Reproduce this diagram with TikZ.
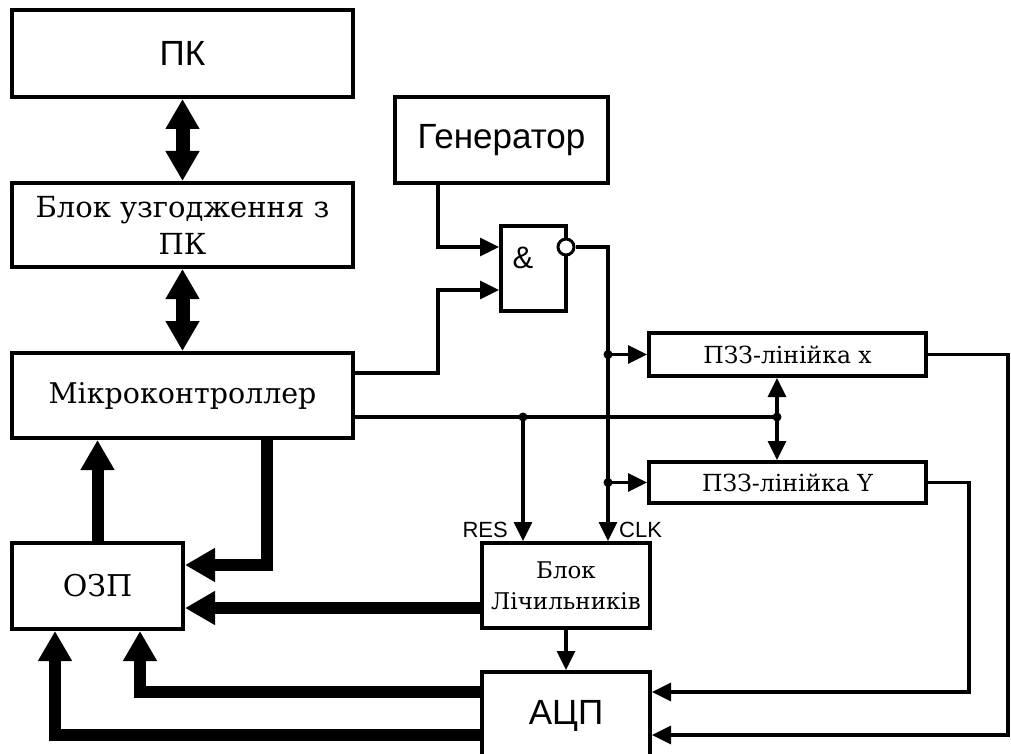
\documentclass[tikz,border=0pt]{standalone}
\usepackage{fontspec}
\setmainfont{DejaVu Serif}
\newfontfamily\sansf{Liberation Sans}
\usetikzlibrary{arrows.meta,calc}
\begin{document}
\begin{tikzpicture}[x=1pt,y=-1pt,
  box/.style={draw, line width=4pt, rectangle, inner sep=0pt, align=center},
  wire/.style={line width=3.2pt},
  bus/.style={line width=12pt},
  tip/.style={-{Triangle[length=19pt,width=18pt]}},
  dtip/.style={{Triangle[length=19pt,width=18pt]}-{Triangle[length=19pt,width=18pt]}},
  bigtip/.style={-{Triangle[length=30pt,width=32pt]}},
  dbigtip/.style={{Triangle[length=30pt,width=32pt]}-{Triangle[length=30pt,width=32pt]}},
  dot/.style={circle, fill, inner sep=0pt, minimum size=9pt}
]
\useasboundingbox (0,0) rectangle (1011,754);

% blocks
\node[box, minimum width=341pt, minimum height=87pt, font=\sansf\fontsize{35}{40}\selectfont] (pk) at (182.5,53.5) {ПК};
\node[box, minimum width=341pt, minimum height=84pt, font=\fontsize{29}{37}\selectfont] (blk) at (182.5,225) {Блок узгодження з\\ПК};
\node[box, minimum width=341pt, minimum height=85pt, font=\fontsize{28.5}{32}\selectfont] (mc) at (182.5,395.5) {Мікроконтроллер};
\node[box, minimum width=213pt, minimum height=86pt, font=\sansf\fontsize{35}{40}\selectfont] (gen) at (501.5,140) {Генератор};
\node[box, minimum width=65pt, minimum height=85pt] (gate) at (533.5,268.5) {};
\node[font=\sansf\fontsize{31}{36}\selectfont] (amp) at (523,258) {\&};
\node[box, minimum width=277pt, minimum height=43pt, font=\fontsize{23.5}{28}\selectfont] (pzx) at (787.5,354.5) {ПЗЗ-лінійка x};
\node[box, minimum width=277pt, minimum height=41pt, font=\fontsize{23.5}{28}\selectfont] (pzy) at (787.5,482.5) {ПЗЗ-лінійка Y};
\node[box, minimum width=171pt, minimum height=86pt, font=\fontsize{30}{32}\selectfont] (ozp) at (97.5,586) {ОЗП};
\node[box, minimum width=168pt, minimum height=85pt, font=\fontsize{23}{31}\selectfont] (cnt) at (566,585.5) {Блок\\Лічильників};
\node[box, minimum width=168pt, minimum height=98pt, text depth=18pt, font=\sansf\fontsize{35}{40}\selectfont] (adc) at (566,721) {АЦП};

% helper coordinates
\coordinate (in1) at (438,247);
\coordinate (in2) at (438,290);
\coordinate (m1) at (353,373);
\coordinate (bus1) at (608,247);
\coordinate (j1) at (777,417);
\coordinate (res) at (523,417);
\coordinate (r1) at (1008,735);
\coordinate (r2) at (969,692);
\coordinate (t1) at (267,565);
\coordinate (t3) at (482,608);
\coordinate (t4) at (140,692);
\coordinate (t5) at (55,735);

% inverted output circle
\node[circle, draw, line width=3pt, fill=white, minimum size=16pt, inner sep=0pt] (neg) at ([xshift=-2pt]gate.east |- in1) {};

% thin connectors
\draw[wire, tip] (in1 |- gen.south) -- (in1) -- (gate.west |- in1);
\draw[wire, tip] (mc.east |- m1) -| (in2) -- (gate.west |- in2);
\draw[wire, tip] (neg.east) -| (cnt.north -| bus1);
\draw[wire, tip] (bus1 |- pzx.west) -- (pzx.west);
\draw[wire, tip] (bus1 |- pzy.west) -- (pzy.west);
\draw[wire] (mc.east |- j1) -- (j1);
\draw[wire, dtip] (pzx.south -| j1) -- (pzy.north -| j1);
\draw[wire, tip] (res) -- (cnt.north -| res);
\draw[wire, tip] (pzx.east) -| (r1) -- (adc.east |- r1);
\draw[wire, tip] (pzy.east) -| (r2) -- (adc.east |- r2);
\draw[wire, tip] (cnt.south) -- (adc.north);

% junction dots
\node[dot] (d1) at (bus1 |- pzx.west) {};
\node[dot] (d2) at (bus1 |- pzy.west) {};
\node[dot] (d3) at (j1) {};
\node[dot] (d4) at (res) {};

% labels
\node[anchor=east, font=\sansf\fontsize{22}{24}\selectfont, inner sep=0pt] (reslbl) at (508,530) {RES};
\node[anchor=west, font=\sansf\fontsize{22}{24}\selectfont, inner sep=0pt] (clklbl) at (619,530) {CLK};

% buses
\draw[line width=14pt, dbigtip] (pk.south) -- (blk.north);
\draw[line width=14pt, dbigtip] (blk.south) -- (mc.north);
\draw[bus, bigtip] (mc.south -| t1) -- (t1) -- (ozp.east |- t1);
\draw[bus, bigtip] (ozp.north) -- (mc.south -| ozp.north);
\draw[bus, bigtip] (cnt.west |- t3) -- (ozp.east |- t3);
\draw[bus, bigtip] (adc.west |- t4) -| (ozp.south -| t4);
\draw[bus, bigtip] (adc.west |- t5) -| (ozp.south -| t5);
\end{tikzpicture}
\end{document}
